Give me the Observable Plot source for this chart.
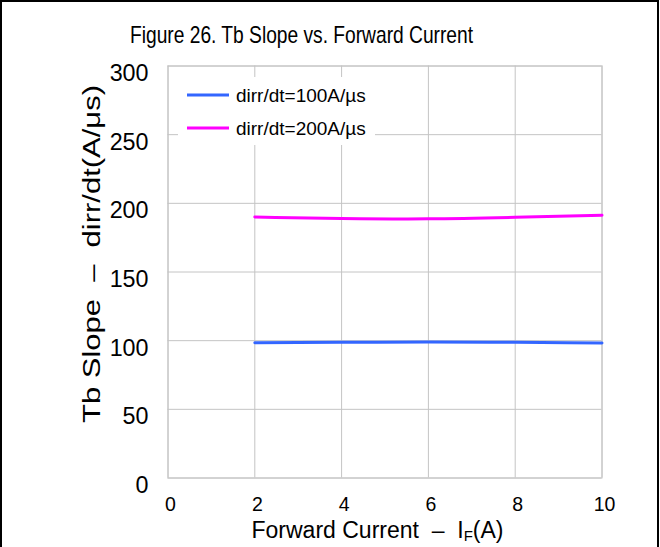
<!DOCTYPE html>
<html>
<head>
<meta charset="utf-8">
<script src="https://cdn.jsdelivr.net/npm/d3@7"></script>
<script src="https://cdn.jsdelivr.net/npm/@observablehq/plot@0.6"></script>
<style>
html, body { margin: 0; padding: 0; background: #fff; }
#wrap { position: relative; width: 660px; height: 547px; overflow: hidden; }
#border { position: absolute; left: 0; top: 0; width: 655px; height: 700px; border: 2px solid #000; pointer-events: none; }
#wrap svg { position: absolute; left: 0; top: 0; }
</style>
</head>
<body>
<div id="wrap"><div id="border"></div></div>
<script>
// ---- data ----
const currents = [2, 4, 6, 8, 10];
const slope100 = [98.5, 98.8, 99.0, 98.8, 98.3];
const slope200 = [190.0, 189.0, 188.7, 189.8, 191.3];
const seriesNames = ["dirr/dt=100A/µs", "dirr/dt=200A/µs"];
const seriesColors = ["#3366ff", "#ff00ff"];
const xTicks = [0, 2, 4, 6, 8, 10];
const yTicks = [0, 50, 100, 150, 200, 250, 300];
const titleText = "Figure 26. Tb Slope vs. Forward Current";
const yLabelText = "Tb Slope  \u2013  dirr/dt(A/\u03bcs)";

const rows = [];
currents.forEach((c, i) => {
  rows.push({x: c, y: slope100[i], s: seriesNames[0]});
  rows.push({x: c, y: slope200[i], s: seriesNames[1]});
});

const FONT = "'Liberation Sans', Arial, sans-serif";
const GRID = "#c4c4c4";

const chart = Plot.plot({
  width: 660,
  height: 547,
  marginLeft: 167.5,
  marginRight: 58.5,
  marginTop: 65.5,
  marginBottom: 69.5,
  style: {fontFamily: FONT, background: "transparent", overflow: "visible", color: "#000"},
  x: {domain: [0, 10], axis: null},
  y: {domain: [0, 300], axis: null},
  color: {domain: seriesNames, range: seriesColors},
  marks: [
    Plot.gridX(xTicks, {stroke: GRID, strokeOpacity: 1, strokeWidth: 1}),
    Plot.gridY(yTicks, {stroke: GRID, strokeOpacity: 1, strokeWidth: 1}),
    Plot.frame({stroke: GRID, strokeWidth: 1}),
    Plot.text(yTicks, {y: d => d, text: d => String(d), frameAnchor: "left", dx: -19.5, dy: 15,
      textAnchor: "end", lineAnchor: "bottom", fontSize: 23.3, fill: "#000", ariaLabel: "ytick"}),
    Plot.text(xTicks, {x: d => d, text: d => String(d), frameAnchor: "bottom", dx: 2.5, dy: 33,
      textAnchor: "middle", lineAnchor: "bottom", fontSize: 19.5, fill: "#000", ariaLabel: "xtick"}),
    Plot.line(rows, {x: "x", y: "y", z: "s", stroke: "s", strokeWidth: 3, curve: "natural"})
  ]
});

document.getElementById("wrap").appendChild(chart);
const svg = d3.select(chart);

// condense y tick labels horizontally (reference glyphs are tall/narrow)
svg.selectAll('g[aria-label="ytick"] text').each(function() {
  const len = this.getComputedTextLength();
  this.setAttribute("textLength", (len * 0.825).toFixed(2));
  this.setAttribute("lengthAdjust", "spacingAndGlyphs");
});

// title
svg.append("text")
  .attr("x", 130).attr("y", 43)
  .attr("text-anchor", "start")
  .attr("font-family", FONT).attr("font-size", 24)
  .attr("textLength", 343).attr("lengthAdjust", "spacingAndGlyphs")
  .attr("fill", "#000")
  .text(titleText);

// x axis label with subscript
const xl = svg.append("text")
  .attr("x", 377.5).attr("y", 538)
  .attr("text-anchor", "middle")
  .attr("font-family", FONT).attr("font-size", 23)
  .attr("fill", "#000");
xl.append("tspan").text("Forward Current  \u2013  I");
xl.append("tspan").attr("font-size", 15).attr("dy", 3).text("F");
xl.append("tspan").attr("dy", -3).text("(A)");

// y axis label
svg.append("text")
  .attr("transform", "translate(100,254) rotate(-90)")
  .attr("text-anchor", "middle")
  .attr("font-family", FONT).attr("font-size", 23)
  .attr("textLength", 338).attr("lengthAdjust", "spacingAndGlyphs")
  .attr("fill", "#000")
  .text(yLabelText);

// legend
const lg = svg.append("g");
lg.append("rect").attr("x", 178).attr("y", 77).attr("width", 197).attr("height", 68).attr("fill", "#fff");
seriesNames.forEach((name, i) => {
  const yy = 95 + i * 33;
  lg.append("line").attr("x1", 187).attr("x2", 229).attr("y1", yy).attr("y2", yy)
    .attr("stroke", seriesColors[i]).attr("stroke-width", 3);
  lg.append("text").attr("x", 236).attr("y", yy + 7)
    .attr("text-anchor", "start")
    .attr("font-family", FONT).attr("font-size", 19).attr("fill", "#000").text(name);
});
</script>
</body>
</html>
